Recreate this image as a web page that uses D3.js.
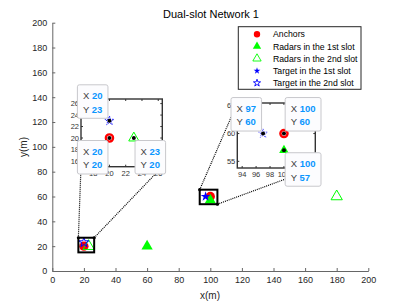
<!DOCTYPE html>
<html>
<head>
<meta charset="utf-8">
<script src="https://cdn.jsdelivr.net/npm/d3@7/dist/d3.min.js"></script>
<style>
  body { margin: 0; background: #fff; }
  text { font-family: "Liberation Sans", Arial, sans-serif; }
</style>
</head>
<body>
<svg id="chart" width="407" height="305"></svg>
<script>
// data
const anchors  = [[20, 20], [100, 60]];
const radars1  = [[60, 20], [100, 57]];
const radars2  = [[23, 20], [180, 60]];
const targets1 = [[97, 60]];
const targets2 = [[20, 23]];

const xTicks = [0, 20, 40, 60, 80, 100, 120, 140, 160, 180, 200];
const yTicks = [0, 20, 40, 60, 80, 100, 120, 140, 160, 180, 200];

const legendLabels = ['Anchors', 'Radars in the 1st slot', 'Radars in the 2nd slot',
                      'Target in the 1st slot', 'Target in the 2nd slot'];

// zoomed regions
const zoom1X = [16.5, 26.5];
const zoom1Y = [15, 26.8];
const zoom1XTicks = [18, 20, 22, 24, 26];
const zoom1YTicks = [16, 18, 20, 22, 24, 26];
const zoom2X = [93.3, 104.5];
const zoom2Y = [53.8, 65.5];
const zoom2XTicks = [94, 96, 98, 100, 102, 104];
const zoom2XLabels = [94, 96, 98, 100];   // the rest sit under a data tip
const zoom2YTicks = [55, 60, 65];

// data tips shown in the insets: point and side
const tips1 = [{ p : [20, 23], dir : 'ul' }, { p : [20, 20], dir : 'dl' }, { p : [23, 20], dir : 'dr' }];
const tips2 = [{ p : [97, 60], dir : 'ul' }, { p : [100, 60], dir : 'ur' }, { p : [100, 57], dir : 'dr' }];

const W = 407, H = 305;
const m = { left : 52.3, right : 368.3, top : 22.7, bottom : 271 };

const svg = d3.select( '#chart' );
svg.append( 'rect' ).attr( 'width', W ).attr( 'height', H ).attr( 'fill', '#fff' );

const x = d3.scaleLinear().domain( [0, 200] ).range( [m.left, m.right] );
const y = d3.scaleLinear().domain( [0, 200] ).range( [m.bottom, m.top] );

const axisColor = '#262626';

// axes (box off, ticks inward)
const xAxis = svg.append( 'g' )
	.attr( 'transform', `translate(0,${m.bottom})` )
	.call( d3.axisBottom( x ).tickValues( xTicks ).tickSizeInner( -3 ).tickSizeOuter( 0 ).tickPadding( 6 ) );
const yAxis = svg.append( 'g' )
	.attr( 'transform', `translate(${m.left},0)` )
	.call( d3.axisLeft( y ).tickValues( yTicks ).tickSizeInner( -3 ).tickSizeOuter( 0 ).tickPadding( 5 ) );
[xAxis, yAxis].forEach( a => {
	a.select( '.domain' ).attr( 'stroke', '#666' );
	a.selectAll( '.tick line' ).attr( 'stroke', '#666' );
	a.selectAll( 'text' ).attr( 'fill', axisColor ).attr( 'font-size', '9px' )
		.attr( 'font-family', '"Liberation Sans", Arial, sans-serif' );
} );

svg.append( 'text' ).text( 'Dual-slot Network 1' )
	.attr( 'x', 211 ).attr( 'y', 18 ).attr( 'text-anchor', 'middle' )
	.attr( 'font-size', '11px' ).attr( 'fill', '#000' );
svg.append( 'text' ).text( 'x(m)' )
	.attr( 'x', 210 ).attr( 'y', 298.5 ).attr( 'text-anchor', 'middle' )
	.attr( 'font-size', '10px' ).attr( 'fill', axisColor );
svg.append( 'text' ).text( 'y(m)' )
	.attr( 'transform', 'translate(27,147) rotate(-90)' ).attr( 'text-anchor', 'middle' )
	.attr( 'font-size', '10px' ).attr( 'fill', axisColor );

// marker helpers
const circleSym = s => d3.symbol( d3.symbolCircle, s )();
const triSym    = s => d3.symbol( d3.symbolTriangle, s )();
const starSym   = s => d3.symbol( d3.symbolStar, s )();

const series = [
	{ data : anchors,  path : circleSym( 68 ), fill : '#ff0000', stroke : 'none' },
	{ data : radars1,  path : triSym( 55 ),    fill : '#00ff00', stroke : 'none' },
	{ data : radars2,  path : triSym( 55 ),    fill : 'none',    stroke : '#00ff00' },
	{ data : targets1, path : starSym( 30 ),   fill : '#0000ff', stroke : 'none' },
	{ data : targets2, path : starSym( 30 ),   fill : 'none',    stroke : '#0000ff' }
];

function drawMarkers( g, sx, sy ) {
	series.forEach( s => {
		g.selectAll( null )
			.data( s.data )
			.enter()
			.append( 'path' )
			.attr( 'd', s.path )
			.attr( 'transform', d => `translate(${sx( d[0] )},${sy( d[1] )})` )
			.attr( 'fill', s.fill )
			.attr( 'stroke', s.stroke )
			.attr( 'stroke-width', 1 );
	} );
}

drawMarkers( svg.append( 'g' ), x, y );

// small zoom boxes on the main plot: white, clipped markers, thick frame
const boxes = [{ id : 'zb1', xd : zoom1X, yd : zoom1Y }, { id : 'zb2', xd : zoom2X, yd : zoom2Y }];
boxes.forEach( b => {
	const bx = x( b.xd[0] ), by = y( b.yd[1] );
	const bw = x( b.xd[1] ) - bx, bh = y( b.yd[0] ) - by;
	svg.append( 'clipPath' ).attr( 'id', b.id )
		.append( 'rect' ).attr( 'x', bx ).attr( 'y', by ).attr( 'width', bw ).attr( 'height', bh );
	svg.append( 'rect' ).attr( 'x', bx ).attr( 'y', by ).attr( 'width', bw ).attr( 'height', bh ).attr( 'fill', '#fff' );
	drawMarkers( svg.append( 'g' ).attr( 'clip-path', `url(#${b.id})` ), x, y );
	svg.append( 'rect' ).attr( 'x', bx ).attr( 'y', by ).attr( 'width', bw ).attr( 'height', bh )
		.attr( 'fill', 'none' ).attr( 'stroke', '#000' ).attr( 'stroke-width', 2 );
} );

// inset axes
const insets = [
	{ xd : zoom1X, yd : zoom1Y, xt : zoom1XTicks, xl : zoom1XTicks, yt : zoom1YTicks, px : [81, 162.3], py : [99, 166.7], tips : tips1,
	  links : [['tl', 'bl'], ['tr', 'br']] },
	{ xd : zoom2X, yd : zoom2Y, xt : zoom2XTicks, xl : zoom2XLabels, yt : zoom2YTicks, px : [237.3, 315.3], py : [103, 168], tips : tips2,
	  links : [['tl', 'tl'], ['br', 'br']] }
];

function corner( xs, ys, c ) {
	return [c[1] === 'l' ? xs[0] : xs[1], c[0] === 't' ? ys[0] : ys[1]];
}

// dotted connectors
insets.forEach( ins => {
	const bxs = [x( ins.xd[0] ), x( ins.xd[1] )];
	const bys = [y( ins.yd[1] ), y( ins.yd[0] )];
	ins.links.forEach( l => {
		const a = corner( bxs, bys, l[0] );
		const b = corner( ins.px, ins.py, l[1] );
		svg.append( 'line' )
			.attr( 'x1', a[0] ).attr( 'y1', a[1] ).attr( 'x2', b[0] ).attr( 'y2', b[1] )
			.attr( 'stroke', '#000' ).attr( 'stroke-width', 1.2 ).attr( 'stroke-dasharray', '1,1' );
		svg.append( 'circle' ).attr( 'cx', a[0] ).attr( 'cy', a[1] ).attr( 'r', 1.6 ).attr( 'fill', '#000' );
		svg.append( 'circle' ).attr( 'cx', b[0] ).attr( 'cy', b[1] ).attr( 'r', 1.6 ).attr( 'fill', '#000' );
	} );
} );

const tipLayer = [];

insets.forEach( ( ins, k ) => {
	const ix = d3.scaleLinear().domain( ins.xd ).range( ins.px );
	const iy = d3.scaleLinear().domain( ins.yd ).range( [ins.py[1], ins.py[0]] );
	const g = svg.append( 'g' );
	const w = ins.px[1] - ins.px[0], h = ins.py[1] - ins.py[0];

	g.append( 'rect' ).attr( 'x', ins.px[0] ).attr( 'y', ins.py[0] ).attr( 'width', w ).attr( 'height', h )
		.attr( 'fill', '#fff' );

	// ticks on all four sides, inward
	ins.xt.forEach( t => {
		g.append( 'line' ).attr( 'x1', ix( t ) ).attr( 'x2', ix( t ) ).attr( 'y1', ins.py[1] ).attr( 'y2', ins.py[1] - 2 ).attr( 'stroke', '#333' );
		g.append( 'line' ).attr( 'x1', ix( t ) ).attr( 'x2', ix( t ) ).attr( 'y1', ins.py[0] ).attr( 'y2', ins.py[0] + 2 ).attr( 'stroke', '#333' );
	} );
	ins.xl.forEach( t => {
		g.append( 'text' ).text( t ).attr( 'x', ix( t ) ).attr( 'y', ins.py[1] + 9 )
			.attr( 'text-anchor', 'middle' ).attr( 'font-size', '7.5px' ).attr( 'fill', '#333' );
	} );
	ins.yt.forEach( t => {
		g.append( 'line' ).attr( 'y1', iy( t ) ).attr( 'y2', iy( t ) ).attr( 'x1', ins.px[0] ).attr( 'x2', ins.px[0] + 2 ).attr( 'stroke', '#333' );
		g.append( 'line' ).attr( 'y1', iy( t ) ).attr( 'y2', iy( t ) ).attr( 'x1', ins.px[1] ).attr( 'x2', ins.px[1] - 2 ).attr( 'stroke', '#333' );
		g.append( 'text' ).text( t ).attr( 'x', ins.px[0] - 2 ).attr( 'y', iy( t ) + 2.6 )
			.attr( 'text-anchor', 'end' ).attr( 'font-size', '7.5px' ).attr( 'fill', '#333' );
	} );

	g.append( 'rect' ).attr( 'x', ins.px[0] ).attr( 'y', ins.py[0] ).attr( 'width', w ).attr( 'height', h )
		.attr( 'fill', 'none' ).attr( 'stroke', '#333' ).attr( 'stroke-width', 1.4 );

	// markers inside the inset
	const clipId = 'ic' + k;
	g.append( 'clipPath' ).attr( 'id', clipId ).append( 'rect' )
		.attr( 'x', ins.px[0] ).attr( 'y', ins.py[0] ).attr( 'width', w ).attr( 'height', h );
	const mg = g.append( 'g' ).attr( 'clip-path', `url(#${clipId})` );
	const inside = d => d[0] >= ins.xd[0] && d[0] <= ins.xd[1] && d[1] >= ins.yd[0] && d[1] <= ins.yd[1];

	anchors.filter( inside ).forEach( d => {
		mg.append( 'circle' ).attr( 'cx', ix( d[0] ) ).attr( 'cy', iy( d[1] ) ).attr( 'r', 3.6 )
			.attr( 'fill', '#fff' ).attr( 'stroke', '#ff0000' ).attr( 'stroke-width', 2.4 );
	} );
	radars1.filter( inside ).forEach( d => {
		mg.append( 'path' ).attr( 'd', triSym( 40 ) ).attr( 'transform', `translate(${ix( d[0] )},${iy( d[1] )})` )
			.attr( 'fill', '#00ff00' );
	} );
	radars2.filter( inside ).forEach( d => {
		mg.append( 'path' ).attr( 'd', triSym( 45 ) ).attr( 'transform', `translate(${ix( d[0] )},${iy( d[1] )})` )
			.attr( 'fill', 'none' ).attr( 'stroke', '#00ff00' );
	} );
	targets1.concat( targets2 ).filter( inside ).forEach( d => {
		mg.append( 'path' ).attr( 'd', starSym( 26 ) ).attr( 'transform', `translate(${ix( d[0] )},${iy( d[1] )})` )
			.attr( 'fill', 'none' ).attr( 'stroke', k === 0 ? '#2020ff' : '#7070ff' ).attr( 'stroke-dasharray', '1.5,1' );
	} );

	ins.tips.forEach( t => {
		const px = ix( t.p[0] ), py = iy( t.p[1] );
		mg.append( 'circle' ).attr( 'cx', px ).attr( 'cy', py ).attr( 'r', 2 ).attr( 'fill', '#000' );
		tipLayer.push( { px, py, xv : t.p[0], yv : t.p[1], dir : t.dir } );
	} );
} );

// data tips on top
tipLayer.forEach( t => {
	const tg = svg.append( 'g' );
	const rect = tg.append( 'rect' );
	const lines = [['X', t.xv], ['Y', t.yv]];
	const texts = lines.map( ( l, i ) => {
		const tx = tg.append( 'text' ).attr( 'font-size', '9.5px' );
		tx.append( 'tspan' ).text( l[0] + ' ' ).attr( 'fill', '#404040' );
		tx.append( 'tspan' ).text( l[1] ).attr( 'fill', '#0a96ff' ).attr( 'font-weight', 'bold' );
		return tx;
	} );
	const tw = d3.max( texts, tx => tx.node().getComputedTextLength() );
	const w = tw + 11, h = 33.5;
	const x0 = t.dir[1] === 'l' ? t.px - 1.5 - w : t.px + 1.2;
	const y0 = t.dir[0] === 'u' ? t.py - 2.5 - h : t.py + 2.5;
	rect.attr( 'x', x0 ).attr( 'y', y0 ).attr( 'width', w ).attr( 'height', h ).attr( 'rx', 2 )
		.attr( 'fill', '#fcfcfe' ).attr( 'stroke', '#c8c8cc' ).attr( 'stroke-width', 1 );
	texts.forEach( ( tx, i ) => tx.attr( 'x', x0 + 5.5 ).attr( 'y', y0 + 14.5 + i * 13.4 ) );
} );

// legend
const lg = svg.append( 'g' );
lg.append( 'rect' ).attr( 'x', 238.3 ).attr( 'y', 26.7 ).attr( 'width', 122.7 ).attr( 'height', 62.6 )
	.attr( 'fill', '#fff' ).attr( 'stroke', axisColor ).attr( 'stroke-width', 1 );
const legendSyms = [
	{ path : circleSym( 32 ), fill : '#ff0000', stroke : 'none' },
	{ path : triSym( 30 ),    fill : '#00ff00', stroke : 'none' },
	{ path : triSym( 30 ),    fill : 'none',    stroke : '#00ff00' },
	{ path : starSym( 14 ),   fill : '#0000ff', stroke : 'none' },
	{ path : starSym( 16 ),   fill : 'none',    stroke : '#0000ff' }
];
legendLabels.forEach( ( lab, i ) => {
	const yy = 34.2 + i * 12.2;
	const s = legendSyms[i];
	lg.append( 'path' ).attr( 'd', s.path ).attr( 'transform', `translate(257,${yy})` )
		.attr( 'fill', s.fill ).attr( 'stroke', s.stroke ).attr( 'stroke-width', 0.9 );
	lg.append( 'text' ).text( lab ).attr( 'x', 273 ).attr( 'y', yy + 3.1 )
		.attr( 'font-size', '8.7px' ).attr( 'fill', '#000' );
} );
</script>
</body>
</html>
